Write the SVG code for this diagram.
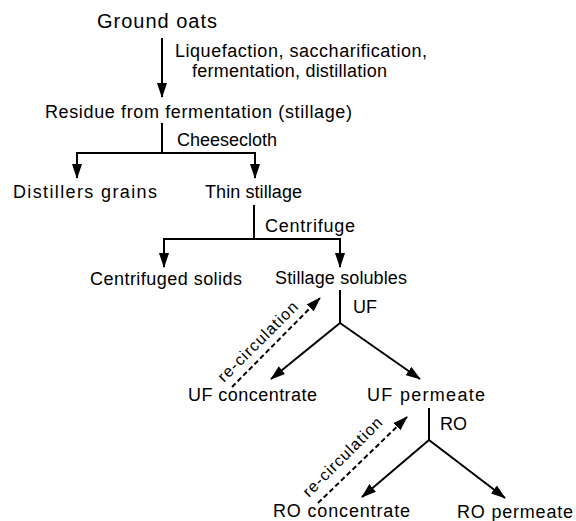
<svg xmlns="http://www.w3.org/2000/svg" width="576" height="521" viewBox="0 0 576 521">
<defs>
<marker id="ah" viewBox="0 0 15 10" markerWidth="15" markerHeight="10" refX="14" refY="5" orient="auto" markerUnits="userSpaceOnUse">
<path d="M0,0 L15,5 L0,10 z" fill="#000"/>
</marker>
<style>
text{font-family:"Liberation Sans",Arial,sans-serif;font-size:18px;fill:#000}
.big{font-size:20px}
.rc{font-size:16px}
.ln{stroke:#000;stroke-width:2;fill:none}
.ar{marker-end:url(#ah)}
.da{stroke-dasharray:5,3}
</style>
</defs>
<rect width="576" height="521" fill="#fff"/>
<g id="connectors">
<line class="ln ar" x1="162" y1="38" x2="162" y2="97"/>
<line class="ln" x1="162" y1="123" x2="162" y2="153"/>
<line class="ln" x1="76" y1="153" x2="256" y2="153"/>
<line class="ln ar" x1="77" y1="153" x2="77" y2="178"/>
<line class="ln ar" x1="255" y1="153" x2="255" y2="178"/>
<line class="ln" x1="254" y1="205" x2="254" y2="239"/>
<line class="ln" x1="163" y1="239" x2="341" y2="239"/>
<line class="ln ar" x1="164" y1="239" x2="164" y2="267"/>
<line class="ln ar" x1="340" y1="239" x2="340" y2="267"/>
<line class="ln" x1="340" y1="290" x2="340" y2="323"/>
<line class="ln ar" x1="340" y1="323" x2="271" y2="379"/>
<line class="ln ar" x1="340" y1="323" x2="420" y2="379"/>
<line class="ln ar da" x1="232" y1="387" x2="320" y2="298"/>
<line class="ln" x1="429" y1="408" x2="429" y2="440"/>
<line class="ln ar" x1="429" y1="440" x2="362" y2="497"/>
<line class="ln ar" x1="429" y1="440" x2="505" y2="498"/>
<line class="ln ar da" x1="318" y1="503" x2="407" y2="417"/>
</g>
<g id="ground-oats"><text class="big" x="97" y="28" textLength="120" lengthAdjust="spacing">Ground oats</text></g>
<g id="step1-label">
<text x="175" y="57" textLength="252" lengthAdjust="spacing">Liquefaction, saccharification,</text>
<text x="192" y="77" textLength="195" lengthAdjust="spacing">fermentation, distillation</text>
</g>
<g id="residue"><text x="45" y="118" textLength="307" lengthAdjust="spacing">Residue from fermentation (stillage)</text></g>
<g id="cheesecloth-label"><text x="177" y="146" textLength="100" lengthAdjust="spacing">Cheesecloth</text></g>
<g id="distillers-grains"><text x="13" y="198" textLength="144" lengthAdjust="spacing">Distillers grains</text></g>
<g id="thin-stillage"><text x="205" y="198" textLength="97" lengthAdjust="spacing">Thin stillage</text></g>
<g id="centrifuge-label"><text x="265" y="232" textLength="90" lengthAdjust="spacing">Centrifuge</text></g>
<g id="centrifuged-solids"><text x="90" y="285" textLength="152" lengthAdjust="spacing">Centrifuged solids</text></g>
<g id="stillage-solubles"><text x="275" y="284" textLength="132" lengthAdjust="spacing">Stillage solubles</text></g>
<g id="uf-label"><text x="353" y="313">UF</text></g>
<g id="uf-recirc"><text class="rc" transform="translate(224,383) rotate(-45)" textLength="106" lengthAdjust="spacing">re-circulation</text></g>
<g id="uf-concentrate"><text x="188" y="401" textLength="129" lengthAdjust="spacing">UF concentrate</text></g>
<g id="uf-permeate"><text x="367" y="401" textLength="118" lengthAdjust="spacing">UF permeate</text></g>
<g id="ro-label"><text x="440" y="430">RO</text></g>
<g id="ro-recirc"><text class="rc" transform="translate(309,498) rotate(-45)" textLength="105" lengthAdjust="spacing">re-circulation</text></g>
<g id="ro-concentrate"><text x="273" y="517" textLength="137" lengthAdjust="spacing">RO concentrate</text></g>
<g id="ro-permeate"><text x="457" y="518" textLength="116" lengthAdjust="spacing">RO permeate</text></g>
</svg>
